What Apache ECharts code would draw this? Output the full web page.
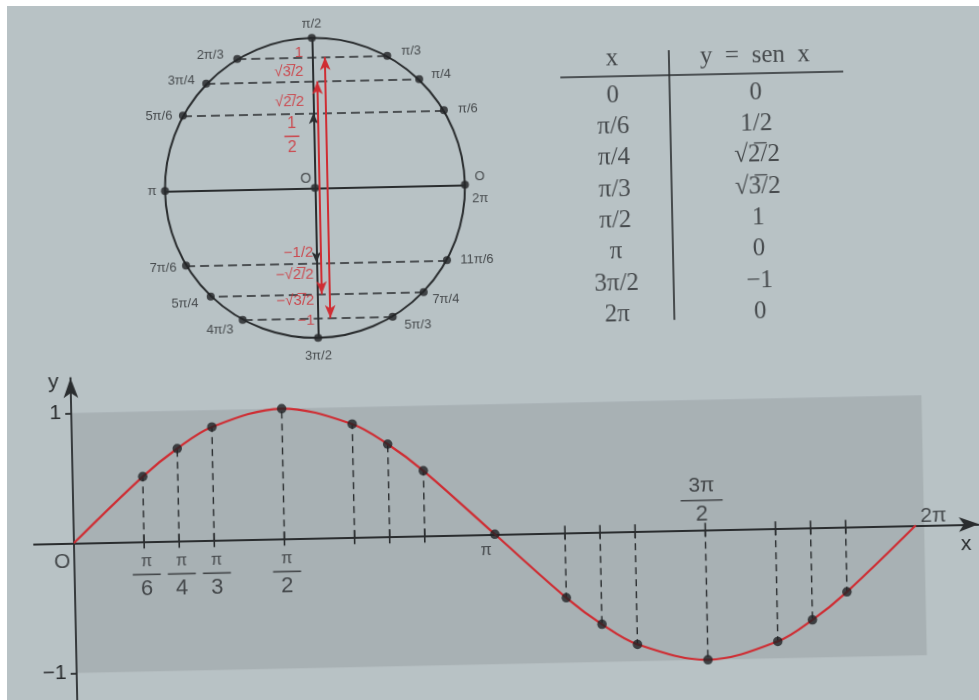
<!DOCTYPE html>
<html lang="pt">
<head>
<meta charset="utf-8">
<title>y = sen x</title>
<script src="https://cdn.jsdelivr.net/npm/echarts@6.0.0/dist/echarts.min.js"></script>
<style>
  html, body { margin:0; padding:0; width:979px; height:700px; overflow:hidden; background:#b8c2c5; }
  #chart { position:absolute; left:-20px; top:-20px; width:1019px; height:740px; transform:rotate(-1.2deg); }
  #edge { position:absolute; left:0; top:0; width:972px; height:694px; border-left:7px solid #fff; border-top:6px solid #fff; pointer-events:none; }
</style>
</head>
<body>
<div id="chart"></div>
<div id="edge"></div>
<script>
// ---------- unit circle ----------
const circleLabels = ['O\n2π','π/6','π/4','π/3','π/2','2π/3','3π/4','5π/6','π','7π/6','5π/4','4π/3','3π/2','5π/3','7π/4','11π/6'];
const circleCos = [1, 0.87, 0.71, 0.5, 0, -0.5, -0.71, -0.87, -1, -0.87, -0.71, -0.5, 0, 0.5, 0.71, 0.87];
const circleSin = [0, 0.5, 0.71, 0.87, 1, 0.87, 0.71, 0.5, 0, -0.5, -0.71, -0.87, -1, -0.87, -0.71, -0.5];
// points with the same sine, joined by a dashed chord
const chordPairs = [[1,7],[2,6],[3,5],[9,15],[10,14],[11,13]];
// sine values written along the vertical diameter
const sineMarks = ['1','√3̅/2','√2̅/2','1/2','−1/2','−√2̅/2','−√3̅/2','−1'];
const sineMarkValues = [1, 0.87, 0.71, 0.5, -0.5, -0.71, -0.87, -1];

// ---------- table ----------
const tableHeader = ['x', 'y  =  sen  x'];
const tableX = ['0','π/6','π/4','π/3','π/2','π','3π/2','2π'];
const tableY = ['0','1/2','√2̅/2','√3̅/2','1','0','−1','0'];

// ---------- graph of y = sen x (x in multiples of π) ----------
const graphX = [0, 1/6, 1/4, 1/3, 1/2, 2/3, 3/4, 5/6, 1, 7/6, 5/4, 4/3, 3/2, 5/3, 7/4, 11/6, 2];
const graphY = [0, 0.5, 0.71, 0.87, 1, 0.87, 0.71, 0.5, 0, -0.5, -0.71, -0.87, -1, -0.87, -0.71, -0.5, 0];
const graphTickAt = [0, 1/6, 1/4, 1/3, 1/2, 1, 3/2, 2];
const graphTickText = ['O','π/6','π/4','π/3','π/2','π','3π/2','2π'];

// ---------- styling ----------
const ink = '#2a2d2f';
const red = '#cf2d33';
const band = '#a8b1b4';
const sans = '"Liberation Sans", Arial, Helvetica, sans-serif';
const serif = '"Liberation Serif", "Times New Roman", serif';

// label placement around the circle points (pixel offsets from the point)
const circleLabelOffset = {
  'O\n2π':[15,3], 'π/6':[24,-1], 'π/4':[22,-4], 'π/3':[24,-4], 'π/2':[0,-14],
  '2π/3':[-27,-4], '3π/4':[-25,-3], '5π/6':[-24,0], 'π':[-13,0],
  '7π/6':[-23,2], '5π/4':[-26,7], '4π/3':[-23,10], '3π/2':[0,18],
  '5π/3':[25,9], '7π/4':[22,8], '11π/6':[30,0]
};
const sineMarkOffset = [[-3,15],[-3,14.5],[-3,20.5],[-16,22],[3,-10],[3,-19.5],[3,-17.5],[3,-17]];
const graphTickOffset = {
  'O':[-12,19], 'π/6':[2,35], 'π/4':[2,35], 'π/3':[2,35], 'π/2':[2,35],
  'π':[-9,16], '3π/2':[-3,-30], '2π':[18,-9]
};

function fraction(text) {
  const parts = text.split('/');
  return '{n|' + parts[0] + '}\n{b|}\n{d|' + parts[1] + '}';
}
function fractionRich(color, numSize, denSize, barWidth) {
  return {
    n: { fontSize: numSize, lineHeight: numSize + 4, color: color, fontFamily: sans, align: 'center' },
    b: { width: barWidth, height: 1.6, lineHeight: 5, backgroundColor: color, align: 'center' },
    d: { fontSize: denSize, lineHeight: denSize + 2, color: color, fontFamily: sans, align: 'center' }
  };
}

const hidden = { show: false };
const chart = echarts.init(document.getElementById('chart'), null, { renderer: 'canvas' });

// circle points and their labels
const circleData = circleLabels.map((t, i) => ({
  value: [circleCos[i], circleSin[i]],
  name: t,
  label: { offset: circleLabelOffset[t] }
}));

const chordLines = chordPairs.map(([a, b]) => [
  { coord: [circleCos[b], circleSin[b]], lineStyle: { type: [9, 5], width: 1.5, color: ink } },
  { coord: [circleCos[a], circleSin[a]] }
]);

const blackArrow = { symbol: 'arrow', symbolSize: [7, 11] };
const redArrow = { symbol: 'arrow', symbolSize: [8, 13] };

const sineMarkData = sineMarks.map((t, i) => {
  const isFrac = t === '1/2';
  return {
    value: [-0.04, sineMarkValues[i]],
    name: t,
    label: {
      formatter: isFrac ? fraction(t) : t,
      align: isFrac ? 'center' : 'right',
      offset: sineMarkOffset[i],
      rich: isFrac ? fractionRich(red, 16, 16, 15) : undefined
    }
  };
});

const graphPoints = graphX.map((x, i) => [x, graphY[i]]);

const graphTickData = graphTickText.map((t, i) => {
  const isFrac = t.indexOf('/') >= 0;
  const big = t === '3π/2';
  return {
    value: [graphTickAt[i], 0],
    name: t,
    label: {
      formatter: isFrac ? fraction(t) : t,
      offset: graphTickOffset[t],
      fontSize: t === 'π' ? 16 : 21,
      rich: isFrac ? (big ? fractionRich(ink, 21, 22, 42) : fractionRich(ink, 16, 22, 28)) : undefined
    }
  };
});

const tableData = [];
tableHeader.forEach((t, c) => tableData.push({ value: [c, 0], name: t, label: { offset: [0, -5] } }));
tableX.forEach((t, r) => tableData.push({ value: [0, r + 1], name: t }));
tableY.forEach((t, r) => tableData.push({ value: [1, r + 1], name: t }));

const option = {
  animation: false,
  backgroundColor: '#b8c2c5',
  grid: [
    { left: 188.4, top: 54.3, width: 300, height: 300, outerBoundsMode: 'none' },
    { left: 50, top: 389.2, width: 945.1, height: 340.6, outerBoundsMode: 'none' },
    { left: 586, top: 55.26, width: 283, height: 313.7, outerBoundsMode: 'none' }
  ],
  xAxis: [
    { gridIndex: 0, type: 'value', min: -1, max: 1, show: false },
    {
      gridIndex: 1, type: 'value', min: -0.095, max: 2.15, z: 2,
      axisLine: { show: true, onZero: true, symbol: ['none', 'arrow'], symbolSize: [11, 20], lineStyle: { color: ink, width: 1.8 } },
      axisTick: hidden, axisLabel: hidden, splitLine: hidden,
      name: 'x', nameLocation: 'end', nameGap: -13,
      nameTextStyle: { fontSize: 21, color: ink, fontFamily: sans, align: 'center', verticalAlign: 'top', padding: [9, 0, 0, 0] }
    },
    { gridIndex: 2, type: 'value', min: -0.364, max: 1.615, show: false }
  ],
  yAxis: [
    { gridIndex: 0, type: 'value', min: -1, max: 1, show: false },
    {
      gridIndex: 1, type: 'value', min: -1.35, max: 1.27, z: 2,
      axisLine: { show: true, onZero: true, symbol: ['none', 'arrow'], symbolSize: [11, 20], lineStyle: { color: ink, width: 1.8 } },
      axisTick: { show: true, customValues: [-1, 1], length: 6, lineStyle: { color: ink, width: 1.8 } },
      // labels sit beside the axis, which crosses the grid 40px in from its left edge
      axisLabel: { show: true, customValues: [-1, 1], formatter: v => (v < 0 ? '−1' : '1'), fontSize: 21, color: ink, fontFamily: sans, margin: -30 },
      splitLine: hidden,
      name: 'y', nameLocation: 'end', nameGap: -4,
      nameTextStyle: { fontSize: 21, color: ink, fontFamily: sans, align: 'right', verticalAlign: 'middle', padding: [0, 12, 0, 0] }
    },
    { gridIndex: 2, type: 'value', min: -1, max: 9, inverse: true, show: false }
  ],
  series: [
    // the unit circle
    {
      type: 'custom', xAxisIndex: 0, yAxisIndex: 0, z: 2, silent: true,
      data: [[0, 0, 1]],
      renderItem: (params, api) => {
        const c = api.coord([api.value(0), api.value(1)]);
        const r = api.size([api.value(2), 0])[0];
        return { type: 'circle', shape: { cx: c[0], cy: c[1], r: r }, style: { fill: 'none', stroke: ink, lineWidth: 2 } };
      }
    },
    // points on the circle, diameters, chords and the ±1/2 arrows
    {
      type: 'scatter', xAxisIndex: 0, yAxisIndex: 0, z: 4, silent: true,
      symbolSize: 8, itemStyle: { color: '#202224' },
      label: { show: true, position: 'inside', formatter: '{b}', fontSize: 13, lineHeight: 22, color: ink, fontFamily: sans },
      data: circleData.concat([{ value: [0, 0], name: 'O', label: { offset: [-9, -9], fontSize: 14 } }]),
      markLine: {
        silent: true, symbol: 'none', animation: false,
        label: { show: false }, emphasis: { disabled: true },
        lineStyle: { color: ink, width: 2, type: 'solid' },
        data: [
          [{ coord: [-1, 0] }, { coord: [1, 0] }],
          [{ coord: [0, 1] }, { coord: [0, -1] }],
          ...chordLines,
          [{ coord: [0, 0], symbol: 'none' }, Object.assign({ coord: [0, sineMarkValues[3]] }, blackArrow)],
          [{ coord: [0, 0], symbol: 'none' }, Object.assign({ coord: [0, sineMarkValues[4]] }, blackArrow)]
        ]
      }
    },
    // red sine values and arrows
    {
      type: 'scatter', xAxisIndex: 0, yAxisIndex: 0, z: 5, silent: true,
      symbolSize: 1, itemStyle: { color: 'rgba(0,0,0,0)' },
      label: { show: true, position: 'inside', fontSize: 15, color: red, fontFamily: sans },
      data: sineMarkData,
      markLine: {
        silent: true, animation: false,
        label: { show: false }, emphasis: { disabled: true },
        lineStyle: { color: red, width: 2, type: 'solid' },
        data: [
          [Object.assign({ coord: [0.085, sineMarkValues[6]] }, redArrow), Object.assign({ coord: [0.085, sineMarkValues[1]] }, redArrow)],
          [Object.assign({ coord: [0.03, sineMarkValues[5]] }, redArrow), Object.assign({ coord: [0.03, sineMarkValues[2]] }, redArrow)]
        ]
      }
    },
    // shaded band over the range of sen x
    {
      type: 'custom', xAxisIndex: 1, yAxisIndex: 1, z: 1, silent: true,
      data: [[0, -1, 2.02, 1]],
      renderItem: (params, api) => {
        const p0 = api.coord([api.value(0), api.value(3)]);
        const p1 = api.coord([api.value(2), api.value(1)]);
        return { type: 'rect', shape: { x: p0[0], y: p0[1], width: p1[0] - p0[0], height: p1[1] - p0[1] }, style: { fill: band } };
      }
    },
    // dashed projections with a tick across the x axis
    {
      type: 'custom', xAxisIndex: 1, yAxisIndex: 1, z: 3, silent: true,
      data: graphPoints.filter(d => d[1] !== 0),
      renderItem: (params, api) => {
        const x = api.value(0), y = api.value(1);
        const base = api.coord([x, 0]);
        const tip = api.coord([x, y]);
        return {
          type: 'group',
          children: [
            { type: 'line', shape: { x1: base[0], y1: base[1], x2: tip[0], y2: tip[1] }, style: { stroke: ink, lineWidth: 1.4, lineDash: [7, 5] } },
            { type: 'line', shape: { x1: base[0], y1: base[1] - 7, x2: base[0], y2: base[1] + 7 }, style: { stroke: ink, lineWidth: 1.6 } }
          ]
        };
      }
    },
    // the curve
    {
      type: 'line', xAxisIndex: 1, yAxisIndex: 1, z: 4, silent: true,
      smooth: 0.35, showSymbol: false, symbol: 'none',
      lineStyle: { color: red, width: 2.2 },
      data: graphPoints
    },
    // marked points of the curve
    {
      type: 'scatter', xAxisIndex: 1, yAxisIndex: 1, z: 5, silent: true,
      symbolSize: 9.5, itemStyle: { color: '#202224' },
      data: graphPoints.filter((d, i) => i > 0 && i < graphPoints.length - 1)
    },
    // x tick labels
    {
      type: 'scatter', xAxisIndex: 1, yAxisIndex: 1, z: 6, silent: true,
      symbolSize: 1, itemStyle: { color: 'rgba(0,0,0,0)' },
      label: { show: true, position: 'inside', color: ink, fontFamily: sans },
      data: graphTickData
    },
    // table
    {
      type: 'scatter', xAxisIndex: 2, yAxisIndex: 2, z: 5, silent: true,
      symbolSize: 1, itemStyle: { color: 'rgba(0,0,0,0)' },
      label: { show: true, position: 'inside', formatter: '{b}', fontSize: 25, color: ink, fontFamily: serif },
      data: tableData,
      markLine: {
        silent: true, symbol: 'none', animation: false,
        label: { show: false }, emphasis: { disabled: true },
        lineStyle: { color: ink, width: 1.6, type: 'solid' },
        data: [
          [{ coord: [0.395, -0.4] }, { coord: [0.395, 8.2] }],
          [{ coord: [-0.364, 0.394] }, { coord: [1.615, 0.394] }]
        ]
      }
    }
  ]
};

chart.setOption(option);
</script>
</body>
</html>
